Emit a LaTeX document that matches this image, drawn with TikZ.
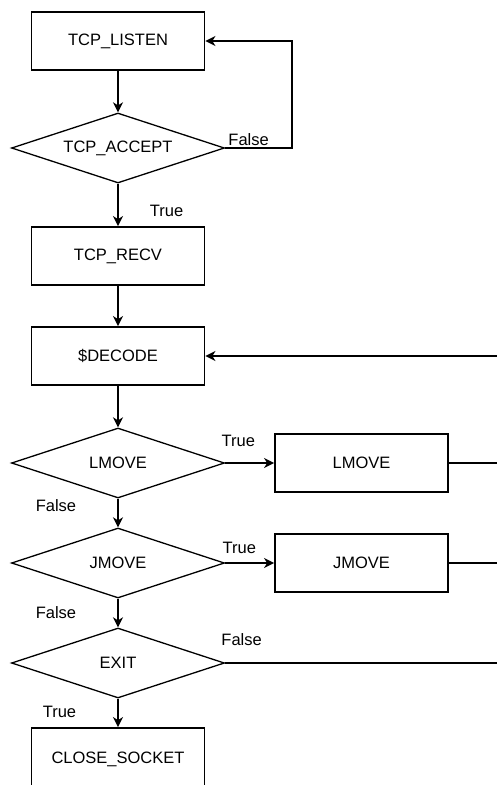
\documentclass[tikz,border=0pt]{standalone}
\usepackage{fontspec}
\setmainfont{Liberation Sans}
\usetikzlibrary{arrows.meta, shapes.geometric}

\tikzset{
  box/.style={draw, line width=1.8pt, minimum width=173pt, minimum height=58pt, inner sep=0pt},
  decision/.style={draw, diamond, aspect=3, line width=1.3pt, minimum width=213pt, minimum height=70pt, inner sep=0pt},
  flow/.style={line width=1.8pt, -{Stealth[length=10pt,width=10pt,inset=3pt]}},
  wire/.style={line width=1.8pt},
  lbl/.style={inner sep=1pt}
}

\begin{document}
\begin{tikzpicture}[x=1pt, y=-1pt, font=\fontsize{16.5}{20}\selectfont]
\useasboundingbox (0,0) rectangle (497,785);

\node[box] (listen) at (118,41) {TCP\_LISTEN};
\node[decision] (accept) at (118,148) {TCP\_ACCEPT};
\node[box] (recv) at (118,256) {TCP\_RECV};
\node[box] (decode) at (118,356) {\$DECODE};
\node[decision] (lmovetest) at (118,463) {LMOVE};
\node[box] (lmove) at (361.5,463) {LMOVE};
\node[decision] (jmovetest) at (118,563) {JMOVE};
\node[box] (jmove) at (361.5,563) {JMOVE};
\node[decision] (exittest) at (118,663) {EXIT};
\node[box, minimum height=62pt] (close) at (118,759) {CLOSE\_SOCKET};

% loose ends at the right edge
\coordinate (back) at (500,356);
\coordinate (lmoveout) at (500,463);
\coordinate (jmoveout) at (500,563);
\coordinate (exitout) at (500,663);

\draw[flow] (listen) -- (accept);
\draw[flow] (accept.east) -- node[lbl, above, pos=0.35] {False} ++(67,0) |- (listen.east);
\draw[flow] (accept) -- node[lbl, right=30pt, pos=0.64] {True} (recv);
\draw[flow] (recv) -- (decode);
\draw[flow] (back) -- (decode.east);
\draw[flow] (decode) -- (lmovetest);

\draw[flow] (lmovetest.east) -- node[lbl, above=14pt, pos=0.27] {True} (lmove.west);
\draw[wire] (lmove.east) -- (lmoveout);
\draw[flow] (lmovetest) -- node[lbl, left=40pt, pos=0.23] {False} (jmovetest);

\draw[flow] (jmovetest.east) -- node[lbl, above=7pt, pos=0.29] {True} (jmove.west);
\draw[wire] (jmove.east) -- (jmoveout);
\draw[flow] (jmovetest) -- node[lbl, left=40pt, pos=0.47] {False} (exittest);

\draw[wire] (exittest.east) -- node[lbl, above=15pt, pos=0.06] {False} (exitout);
\draw[flow] (exittest) -- node[lbl, left=40pt, pos=0.47] {True} (close);
\end{tikzpicture}
\end{document}
